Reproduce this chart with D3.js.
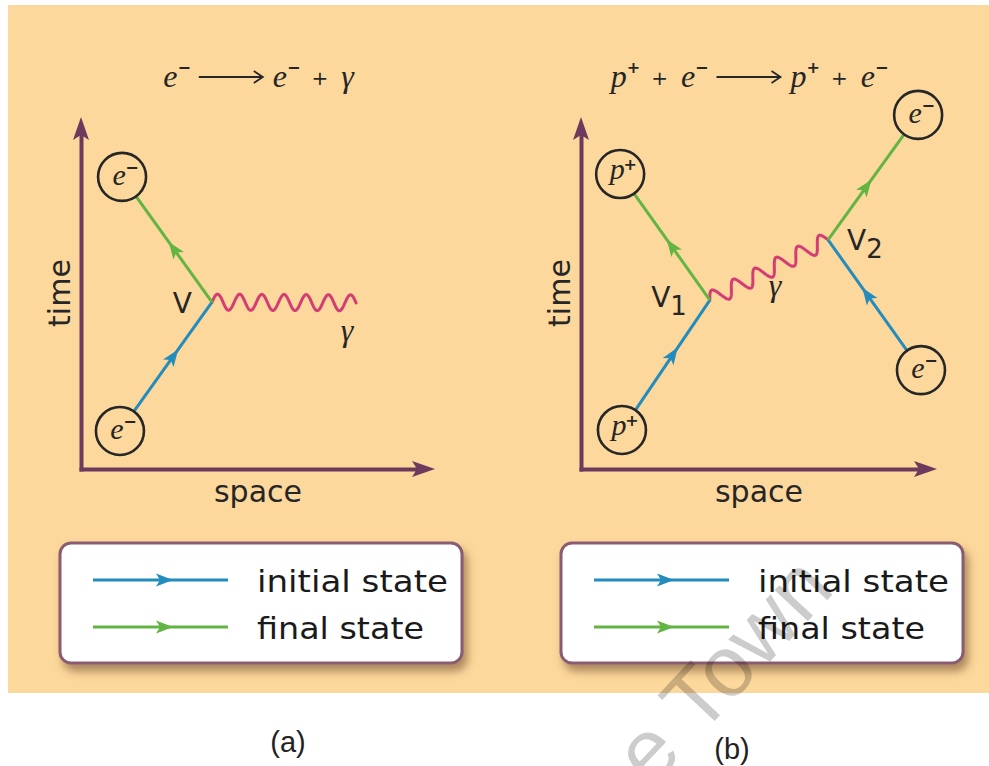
<!DOCTYPE html>
<html><head><meta charset="utf-8">
<script src="https://cdn.jsdelivr.net/npm/d3@7"></script>
<style>
html,body{margin:0;padding:0;background:#fff;}
svg{display:block;}
</style></head><body>
<svg id="chart" width="989" height="766"></svg>
<script>
// ---------------- data ----------------
const panelNames = ["(a)", "(b)"];
const reactionA = [["e","−"], "→", ["e","−"], "+", ["γ",""]];
const reactionB = [["p","+"], "+", ["e","−"], "→", ["p","+"], "+", ["e","−"]];
const axisLabels = ["space", "time"];
const legendLabels = ["initial state", "final state"];
const photonLabel = "γ";

// particles (space, time on a 0–100 scale of each panel's axes)
const particlesA = [
  {id:"e_in",  sym:"e", charge:"−", space:11.0, time:10.8},
  {id:"e_out", sym:"e", charge:"−", space:11.6, time:83.0}
];
const verticesA = [{id:"V", name:"V", sub:"", space:37.0, time:47.4}];
const photonEndsA = [{id:"g", space:77.7, time:47.2}];
const fermionLinesA = [
  {from:"e_in", to:"V", state:"initial state"},
  {from:"V", to:"e_out", state:"final state"}
];
const photonLinesA = [{from:"V", to:"g"}];

const particlesB = [
  {id:"p_in",  sym:"p", charge:"+", space:11.5, time:11.1},
  {id:"p_out", sym:"p", charge:"+", space:11.0, time:83.8},
  {id:"e_in",  sym:"e", charge:"−", space:95.5, time:28.1},
  {id:"e_out", sym:"e", charge:"−", space:94.7, time:100.6}
];
const verticesB = [
  {id:"V1", name:"V", sub:"1", space:36.2, time:48.0},
  {id:"V2", name:"V", sub:"2", space:69.4, time:65.1}
];
const photonEndsB = [];
const fermionLinesB = [
  {from:"p_in", to:"V1", state:"initial state"},
  {from:"V1", to:"p_out", state:"final state"},
  {from:"e_in", to:"V2", state:"initial state"},
  {from:"V2", to:"e_out", state:"final state"}
];
const photonLinesB = [{from:"V1", to:"V2"}];

// ---------------- styles / layout ----------------
const COL = {bg:"#fdd89c", axis:"#6c3a5c", initial:"#238cbd", final:"#62b543",
             photon:"#d43d74", ink:"#262626", box:"#8a5c72"};
const stateColor = s => s === "initial state" ? COL.initial : COL.final;
const SANS = "'DejaVu Sans', sans-serif";
const SERIF = "'Liberation Serif', serif";
const R = 24;

const panels = [
  {name:panelNames[0], reaction:reactionA, particles:particlesA, vertices:verticesA, ends:photonEndsA,
   fermions:fermionLinesA, photons:photonLinesA,
   frame:{left:81, right:435, bottom:469, top:117}, titleX:264, nameX:288, nameY:752,
   legend:{x:60, y:543, w:402, h:120},
   vlabel:{V:{dx:-20, dy:11, anchor:"end"}},
   periods:[6.5], glabel:{t:1, dx:-9, dy:38}},
  {name:panelNames[1], reaction:reactionB, particles:particlesB, vertices:verticesB, ends:photonEndsB,
   fermions:fermionLinesB, photons:photonLinesB,
   frame:{left:581, right:937, bottom:469, top:117}, titleX:755, nameX:732, nameY:759,
   legend:{x:561, y:543, w:402, h:120},
   vlabel:{V1:{dx:-23, dy:7, anchor:"end"}, V2:{dx:19, dy:10, anchor:"start"}},
   periods:[5.5], glabel:{t:0.5, dx:6, dy:26}}
];

const svg = d3.select("#chart");
const defs = svg.append("defs");
const filt = defs.append("filter").attr("id","shadow")
  .attr("x","-10%").attr("y","-15%").attr("width","125%").attr("height","145%");
filt.append("feDropShadow").attr("dx",4).attr("dy",7).attr("stdDeviation",4)
  .attr("flood-color","#6b4a2a").attr("flood-opacity",0.55);

svg.append("rect").attr("x",8).attr("y",5).attr("width",981).attr("height",688).attr("fill",COL.bg);

function wavePath(p0, p1, periods, amp) {
  const dx = p1[0]-p0[0], dy = p1[1]-p0[1];
  const L = Math.hypot(dx, dy);
  const ux = dx/L, uy = dy/L;
  // perpendicular pointing "upwards" on screen
  let px = uy, py = -ux;
  if (py > 0) { px = -px; py = -py; }
  const n = Math.ceil(L*2);
  const pts = d3.range(n+1).map(i => {
    const u = i/n*L;
    const w = amp*Math.sin(2*Math.PI*periods*u/L);
    return [p0[0]+ux*u+px*w, p0[1]+uy*u+py*w];
  });
  return d3.line()(pts);
}

function drawReaction(g, tokens, cx, baseline) {
  const grp = g.append("g");
  let x = 0;
  tokens.forEach((tk, i) => {
    const next = tokens[i+1];
    if (tk === "→") {
      const ay = baseline - 10, len = 64;
      grp.append("line").attr("x1",x).attr("x2",x+len).attr("y1",ay).attr("y2",ay)
        .attr("stroke",COL.ink).attr("stroke-width",1.8);
      grp.append("path").attr("d",`M${x+len-9},${ay-6}L${x+len},${ay}L${x+len-9},${ay+6}`)
        .attr("fill","none").attr("stroke",COL.ink).attr("stroke-width",1.8);
      x += len + 10;
    } else if (tk === "+") {
      const t = grp.append("text").attr("x",x).attr("y",baseline-2).text("+")
        .attr("font-family",SANS).attr("font-size",20).attr("fill",COL.ink);
      x += t.node().getComputedTextLength() + 13;
    } else {
      const t = grp.append("text").attr("x",x).attr("y",baseline).text(tk[0])
        .attr("font-family",SERIF).attr("font-style","italic").attr("font-size",32).attr("fill",COL.ink);
      x += t.node().getComputedTextLength();
      if (tk[1]) {
        const s = grp.append("text").attr("x",x).attr("y",baseline-14).text(tk[1])
          .attr("font-family",SANS).attr("font-weight","bold").attr("font-size",16).attr("fill",COL.ink);
        x += s.node().getComputedTextLength();
      }
      x += (next === "→") ? 8 : 11;
    }
  });
  grp.attr("transform", `translate(${cx - x/2},0)`);
}

panels.forEach(P => {
  const g = svg.append("g");
  const F = P.frame;
  const x = d3.scaleLinear().domain([0,100]).range([F.left, F.right]);
  const y = d3.scaleLinear().domain([0,100]).range([F.bottom, F.top]);

  // axes (no ticks) + arrowheads
  const xa = d3.axisBottom(x.copy().range([F.left, F.right-12])).tickValues([]).tickSizeOuter(0);
  const ya = d3.axisLeft(y.copy().range([F.bottom, F.top+12])).tickValues([]).tickSizeOuter(0);
  g.append("g").attr("transform",`translate(0,${F.bottom})`).call(xa)
    .call(s => s.select(".domain").attr("stroke",COL.axis).attr("stroke-width",4).attr("stroke-linecap","square"));
  g.append("g").attr("transform",`translate(${F.left},0)`).call(ya)
    .call(s => s.select(".domain").attr("stroke",COL.axis).attr("stroke-width",4).attr("stroke-linecap","square"));
  const head = "M0,0L-23,-8L-18,0L-23,8Z";
  g.append("path").attr("d",head).attr("fill",COL.axis)
    .attr("transform",`translate(${x(100)},${y(0)})`);
  g.append("path").attr("d",head).attr("fill",COL.axis)
    .attr("transform",`translate(${x(0)},${y(100)}) rotate(-90)`);

  g.append("text").attr("x",(x(0)+x(100))/2).attr("y",F.bottom+33).attr("text-anchor","middle")
    .attr("font-family",SANS).attr("font-size",30).attr("fill",COL.ink).text(axisLabels[0]);
  g.append("text").attr("transform",`translate(${F.left-11},${(y(0)+y(100))/2}) rotate(-90)`)
    .attr("text-anchor","middle").attr("font-family",SANS).attr("font-size",30).attr("fill",COL.ink)
    .text(axisLabels[1]);

  // title
  drawReaction(g, P.reaction, P.titleX, 87);

  // node positions
  const pos = {};
  const isParticle = {};
  P.particles.forEach(d => { pos[d.id] = [x(d.space), y(d.time)]; isParticle[d.id] = true; });
  P.vertices.forEach(d => { pos[d.id] = [x(d.space), y(d.time)]; });
  P.ends.forEach(d => { pos[d.id] = [x(d.space), y(d.time)]; });

  // photons
  P.photons.forEach((ph, i) => {
    const a = pos[ph.from], b = pos[ph.to];
    g.append("path").attr("d", wavePath(a, b, P.periods[i], 8))
      .attr("fill","none").attr("stroke",COL.photon).attr("stroke-width",3).attr("stroke-linecap","round");
    const t = P.glabel.t;
    g.append("text").attr("x", a[0]+(b[0]-a[0])*t + P.glabel.dx).attr("y", a[1]+(b[1]-a[1])*t + P.glabel.dy)
      .attr("text-anchor","middle").attr("font-family",SERIF).attr("font-style","italic")
      .attr("font-size",32).attr("fill",COL.ink).text(photonLabel);
  });

  // fermion lines with arrows
  P.fermions.forEach(fl => {
    let a = pos[fl.from].slice(), b = pos[fl.to].slice();
    const L = Math.hypot(b[0]-a[0], b[1]-a[1]);
    const ux = (b[0]-a[0])/L, uy = (b[1]-a[1])/L;
    if (isParticle[fl.from]) a = [a[0]+ux*R, a[1]+uy*R];
    if (isParticle[fl.to]) b = [b[0]-ux*R, b[1]-uy*R];
    const c = stateColor(fl.state);
    g.append("line").attr("x1",a[0]).attr("y1",a[1]).attr("x2",b[0]).attr("y2",b[1])
      .attr("stroke",c).attr("stroke-width",3);
    const m = [(a[0]+b[0])/2, (a[1]+b[1])/2];
    const ang = Math.atan2(uy, ux)*180/Math.PI;
    g.append("path").attr("d","M9,0L-8,-6.5L-4,0L-8,6.5Z").attr("fill",c)
      .attr("transform",`translate(${m[0]},${m[1]}) rotate(${ang})`);
  });

  // particle circles
  P.particles.forEach(d => {
    const [cx, cy] = pos[d.id];
    g.append("circle").attr("cx",cx).attr("cy",cy).attr("r",R)
      .attr("fill","none").attr("stroke",COL.ink).attr("stroke-width",2.6);
    g.append("text").attr("x",cx-3).attr("y",cy+(d.sym==="p"?5:8)).attr("text-anchor","middle")
      .attr("font-family",SERIF).attr("font-style","italic").attr("font-size",30).attr("fill",COL.ink).text(d.sym);
    g.append("text").attr("x",cx+10).attr("y",cy-4).attr("text-anchor","middle")
      .attr("font-family",SANS).attr("font-weight","bold").attr("font-size",16).attr("fill",COL.ink).text(d.charge);
  });

  // vertex labels
  P.vertices.forEach(d => {
    const [vx, vy] = pos[d.id];
    const o = P.vlabel[d.id];
    const t = g.append("text").attr("x",vx+o.dx).attr("y",vy+o.dy).attr("text-anchor",o.anchor)
      .attr("font-family",SANS).attr("font-size",28).attr("fill",COL.ink);
    t.append("tspan").text(d.name);
    if (d.sub) t.append("tspan").attr("dy",8).attr("font-size",26).text(d.sub);
  });

  // legend
  const Lg = P.legend;
  g.append("rect").attr("x",Lg.x).attr("y",Lg.y).attr("width",Lg.w).attr("height",Lg.h)
    .attr("rx",11).attr("fill","#fff").attr("stroke",COL.box).attr("stroke-width",3)
    .attr("filter","url(#shadow)");
  const ly = d3.scalePoint().domain(legendLabels).range([Lg.y+37, Lg.y+84]);
  const lw = {"initial state":191, "final state":167};
  legendLabels.forEach(lab => {
    const c = stateColor(lab);
    const yy = ly(lab);
    g.append("line").attr("x1",Lg.x+33).attr("x2",Lg.x+168).attr("y1",yy).attr("y2",yy)
      .attr("stroke",c).attr("stroke-width",3);
    g.append("path").attr("d","M9,0L-8,-6.5L-4,0L-8,6.5Z").attr("fill",c)
      .attr("transform",`translate(${Lg.x+104},${yy})`);
    g.append("text").attr("x",Lg.x+197).attr("y",yy+12).attr("font-family",SANS)
      .attr("font-size",31).attr("fill","#1a1a1a").attr("textLength",lw[lab]).attr("lengthAdjust","spacingAndGlyphs")
      .text(lab);
  });

  // panel name
  svg.append("text").attr("x",P.nameX).attr("y",P.nameY).attr("text-anchor","middle")
    .attr("font-family","'Liberation Sans', Arial, sans-serif").attr("font-size",29).attr("fill","#222").text(P.name);
});

// watermark
svg.append("text").attr("transform","translate(544,904) rotate(-47)")
  .attr("font-family","'Liberation Sans', Arial, sans-serif").attr("font-size",86)
  .attr("fill","#000").attr("fill-opacity",0.2).text("Cape Town");
</script>
</body></html>
